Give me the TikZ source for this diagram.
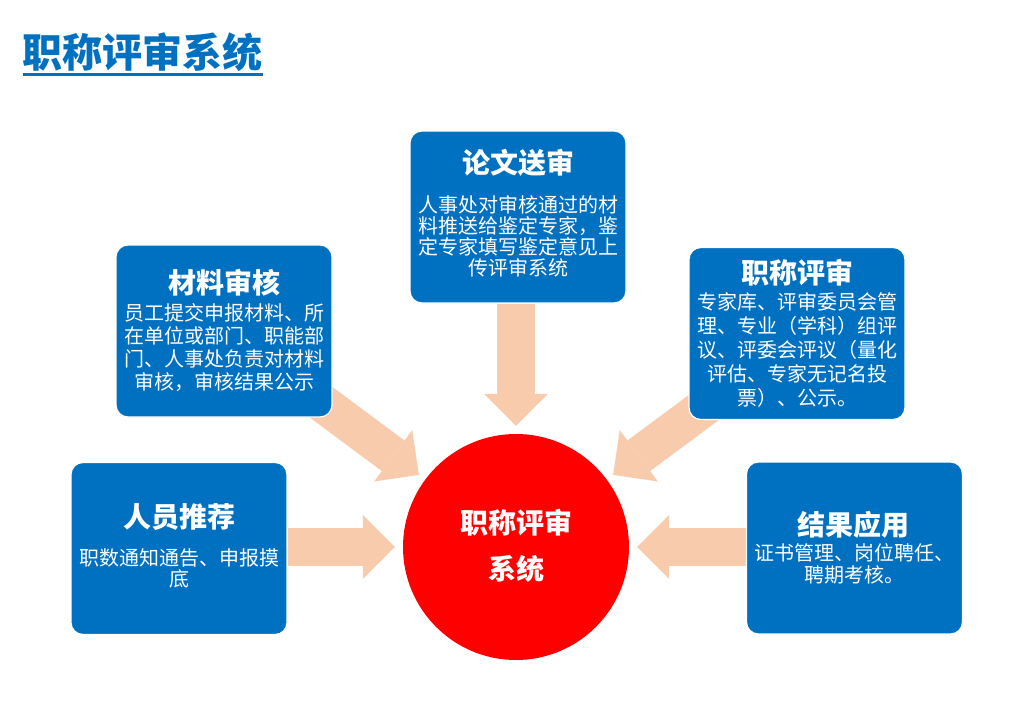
\documentclass[tikz,border=0pt]{standalone}
\usepackage{fontspec}
\setmainfont{Noto Sans CJK SC}
\usetikzlibrary{arrows.meta,calc}
\definecolor{boxblue}{HTML}{0070C0}
\definecolor{peach}{HTML}{F8CBAD}
\definecolor{hubred}{HTML}{FF0000}
\pgfdeclarelayer{bg}
\pgfdeclarelayer{paper}
\pgfsetlayers{paper,bg,main}
\tikzset{
  card/.style={rectangle, rounded corners=12pt, fill=boxblue, draw=white, line width=1.2pt,
    minimum width=216pt, minimum height=172pt, inner sep=0pt},
  cardtitle/.style={text=white, font=\fontsize{28}{30}\selectfont\bfseries, inner sep=0pt},
  cardbody/.style={text=white, align=center, inner sep=0pt, font=\fontsize{20}{#1}\selectfont},
  blockarrow/.style={draw=peach, line width=38pt, -{Triangle[length=32pt,width=64pt,line width=0pt]}},
}
\begin{document}
\begin{tikzpicture}[x=1pt,y=-1pt]
\begin{pgfonlayer}{paper}
\fill[white] (0,0) rectangle (1017,720);
\end{pgfonlayer}
\useasboundingbox (0,0) rectangle (1017,720);

\node[anchor=west, text=boxblue, font=\fontsize{40}{44}\selectfont\bfseries, inner sep=0pt] (title) at (22.5,52.5) {职称评审系统};
\draw[boxblue, line width=3pt] ([yshift=-2pt]title.south west) -- ([yshift=-2pt]title.south east);

\node[circle, fill=hubred, minimum size=226pt, inner sep=0pt] (sys) at (516,547) {};
\node[text=white, align=center, font=\fontsize{28}{46.5}\selectfont\bfseries, inner sep=0pt] (systext) at (516,545.8) {职称评审\\系统};

\node[card] (lw) at (518,217) {};
\node[cardtitle] (lwt) at (518,163) {论文送审};
\node[cardbody=21] (lwb) at (518,236.7) {人事处对审核通过的材\\料推送给鉴定专家，鉴\\定专家填写鉴定意见上\\传评审系统};

\node[card] (cl) at (224,331) {};
\node[cardtitle] (clt) at (224,282.5) {材料审核};
\node[cardbody=23] (clb) at (224,347.3) {员工提交申报材料、所\\在单位或部门、职能部\\门、人事处负责对材料\\审核，审核结果公示};

\node[card] (zc) at (797,333.5) {};
\node[cardtitle] (zct) at (797,273) {职称评审};
\node[cardbody=24] (zcb) at (797,350.4) {专家库、评审委员会管\\理、专业（学科）组评\\议、评委会评议（量化\\评估、专家无记名投\\票）、公示。};

\node[card] (ry) at (179,548.5) {};
\node[cardtitle] (ryt) at (179,517) {人员推荐};
\node[cardbody=21] (ryb) at (179,568.7) {职数通知通告、申报摸\\底};

\node[card] (jg) at (854.5,548) {};
\node[cardtitle] (jgt) at (853,525) {结果应用};
\node[cardbody=22] (jgb) at (854,564) {证书管理、岗位聘任、\\聘期考核。};

\begin{pgfonlayer}{bg}
\draw[blockarrow] (ry.east |- sys.center) -- ([xshift=-8pt]sys.west);
\draw[blockarrow] (jg.west |- sys.center) -- ([xshift=8pt]sys.east);
\draw[blockarrow] (lw.south -| sys.center) -- ([yshift=8pt]sys.north);
\draw[blockarrow] ([shift={(143.4:271pt)}]sys.center) -- ([shift={(143.4:121pt)}]sys.center);
\draw[blockarrow] ([shift={(36.6:271pt)}]sys.center) -- ([shift={(36.6:121pt)}]sys.center);
\end{pgfonlayer}
\end{tikzpicture}
\end{document}
